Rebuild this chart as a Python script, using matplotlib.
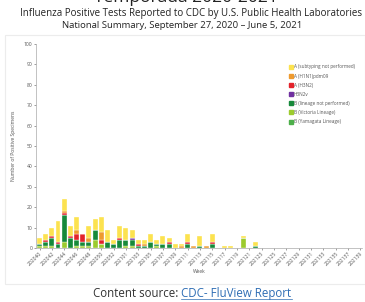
import matplotlib
matplotlib.use("Agg")
import matplotlib.pyplot as plt
from matplotlib.patches import Rectangle
from matplotlib.lines import Line2D
import numpy as np

plt.rcParams['font.family'] = ['Open Sans', 'DejaVu Sans']

# semanas 2020-40 ... 2021-39 (2020 tiene semana 53)
weeks = [f"2020{w}" for w in range(40, 54)] + [f"2021{w:02d}" for w in range(1, 40)]

# valores (53 semanas)
a_unsub = [3, 3, 4, 10, 6, 5, 6, 0, 6, 5, 7, 6, 2, 6, 6, 4, 2, 2, 4, 2, 4, 2, 2, 1, 4, 0, 5, 0, 4, 0,
           1, 1, 0, 1, 0, 2] + [0] * 17
a_h1n1 = [0, 0, 0, 0, 1, 0, 2, 0, 2, 0, 4, 0, 0, 0, 0, 0, 0, 1, 0, 0, 0, 0, 0, 1, 0, 1, 0, 1, 0, 0,
          0, 0, 0, 0, 0, 0] + [0] * 17
a_h3n2 = [0, 1, 1, 1, 1, 1, 3, 4, 0, 0, 2, 0, 0, 1, 0, 0, 1, 0, 0, 0, 0, 1, 0, 0, 1, 0, 0, 0, 1, 0,
          0, 0, 0, 0, 0, 0] + [0] * 17
h3n2v = [0] * 15 + [1] + [0] * 37
b_unk = [1, 2, 4, 2, 13, 5, 3, 2, 2, 5, 0, 3, 2, 4, 3, 3, 1, 1, 3, 1, 2, 2, 0, 0, 2, 0, 1, 0, 2, 0,
         0, 0, 0, 0, 0, 1] + [0] * 17
b_vic = [1, 1, 1, 0, 3, 0, 1, 1, 1, 4, 2, 0, 0, 0, 1, 1, 0, 0, 0, 1, 0, 0, 0, 0, 0, 0, 0, 0, 0, 0,
         0, 0, 0, 5, 0, 0] + [0] * 17
b_yam = [0] * 53

series = [
    ("B (Yamagata Lineage)", b_yam, "#4DAF4A"),
    ("B (Victoria Lineage)", b_vic, "#9CCB2E"),
    ("B (lineage not performed)", b_unk, "#16893A"),
    ("H3N2v", h3n2v, "#7030A0"),
    ("A (H3N2)", a_h3n2, "#E3222B"),
    ("A (H1N1)pdm09", a_h1n1, "#EE9A2E"),
    ("A (subtyping not performed)", a_unsub, "#FCE24F"),
]

fig = plt.figure(figsize=(3.65, 3.02), dpi=100)
fig.patches.append(Rectangle((5 / 365, 1 - 284 / 302), 360 / 365, 249 / 302, transform=fig.transFigure,
                             facecolor="white", edgecolor="#ececec", lw=0.8, zorder=-5))

ax = fig.add_axes([36 / 365, 1 - 248 / 302, 326 / 365, 204 / 302])
ax.patch.set_alpha(0)
x = np.arange(len(weeks))
bottom = np.zeros(len(weeks))
for name, vals, col in series:
    v = np.array(vals, dtype=float)
    ax.bar(x, v, 0.8, bottom=bottom, color=col, edgecolor="white", linewidth=0.25)
    bottom += v

ax.set_xlim(-0.57, 52.27)
ax.set_ylim(0, 100)
ax.set_yticks(range(0, 101, 10))
ax.set_xticks(x[::2])
ax.set_xticklabels(weeks[::2], rotation=45, ha="right", rotation_mode="anchor")
ax.tick_params(labelsize=3.6, colors="#555555", length=1.5, width=0.4, pad=1)
for s in ["top", "right"]:
    ax.spines[s].set_visible(False)
for s in ["left", "bottom"]:
    ax.spines[s].set_color("#aaaaaa")
    ax.spines[s].set_linewidth(0.5)
ax.set_ylabel("Number of Positive Specimens", fontsize=3.6, color="#555555", labelpad=6)
ax.set_xlabel("Week", fontsize=3.6, color="#555555", labelpad=1)

handles = [Line2D([], [], marker="s", ls="", color=c, markersize=2.2) for _, _, c in series[::-1]]
labels = [n for n, _, _ in series[::-1]]
ax.legend(handles, labels, loc="upper left", bbox_to_anchor=(0.765, 0.92), frameon=False,
          fontsize=3.3, labelspacing=0.9, handletextpad=0.1, handlelength=0.8, labelcolor="#555555")

fig.text(0.51, 1 - 2 / 302, "Temporada 2020-2021", ha="center", va="baseline", fontsize=12.5, color="#222222")
fig.text(0.523, 1 - 16 / 302, "Influenza Positive Tests Reported to CDC by U.S. Public Health Laboratories",
         ha="center", va="baseline", fontsize=7.0, color="#222222")
fig.text(0.498, 1 - 28 / 302, "National Summary, September 27, 2020 \u2013 June 5, 2021",
         ha="center", va="baseline", fontsize=6.8, color="#222222")

t1 = fig.text(93 / 365, 1 - 297 / 302, "Content source: ", ha="left", va="baseline", fontsize=8.3, color="#333333")
fig.canvas.draw()
r = fig.canvas.get_renderer()
bb = t1.get_window_extent(r)
x2 = bb.x1 / fig.bbox.width
t2 = fig.text(x2, 1 - 297 / 302, "CDC- FluView Report", ha="left", va="baseline", fontsize=8.3, color="#2E6DB4")
bb2 = t2.get_window_extent(r)
fig.lines.append(Line2D([x2, bb2.x1 / fig.bbox.width], [1 - 298.5 / 302] * 2, transform=fig.transFigure,
                        color="#2E6DB4", lw=0.5))

fig.savefig("out.png", dpi=100)
